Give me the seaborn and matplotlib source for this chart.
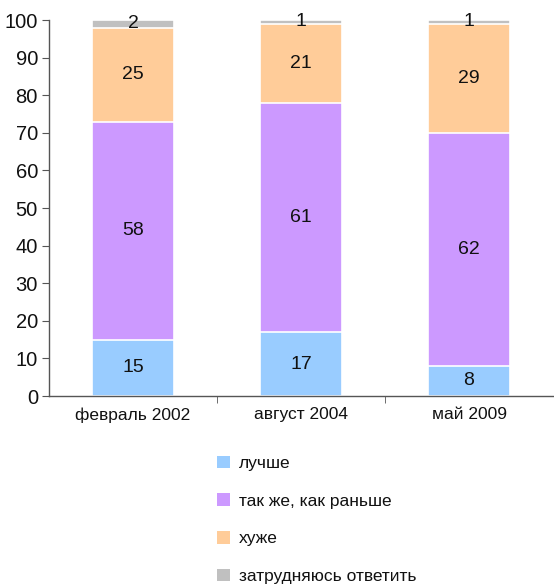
import numpy as np
import pandas as pd
import seaborn as sns
import matplotlib.pyplot as plt
from matplotlib.patches import Patch

periods = ['февраль 2002', 'август 2004', 'май 2009']
series = ['лучше', 'так же, как раньше', 'хуже', 'затрудняюсь ответить']
better = [15, 17, 8]
same = [58, 61, 62]
worse = [25, 21, 29]
no_answer = [2, 1, 1]
colors = ['#99CCFF', '#CC99FF', '#FFCC99', '#C0C0C0']

sns.set_style('white')
plt.rcParams['font.family'] = ['Liberation Sans', 'DejaVu Sans']

df = pd.DataFrame({'period': periods, series[0]: better, series[1]: same,
                   series[2]: worse, series[3]: no_answer})
layers = df[series].cumsum(axis=1)

fig = plt.figure(figsize=(5.54, 5.84), dpi=100)
ax = fig.add_axes([49 / 554, 188 / 584, 504 / 554, 376 / 584])

# draw cumulative totals from the top layer down so each one covers the next
for i in range(len(series) - 1, -1, -1):
    tmp = pd.DataFrame({'period': periods, 'top': layers[series[i]]})
    sns.barplot(data=tmp, x='period', y='top', color=colors[i], saturation=1,
                width=0.49, edgecolor='white', linewidth=1.2, ax=ax)

for j in range(len(periods)):
    base = 0
    for s in series:
        v = df[s][j]
        ax.text(j, base + v / 2, str(v), ha='center', va='center', fontsize=14, color='#111111')
        base += v

ax.set_xlim(-0.5, 2.5)
ax.set_ylim(0, 100)
ax.set_yticks(range(0, 101, 10))
ax.set_xlabel('')
ax.set_ylabel('')
ax.set_xticks([0.5, 1.5], minor=True)
ax.tick_params(axis='x', which='major', length=0, labelsize=12.5, pad=8, labelcolor='#111111')
ax.tick_params(axis='x', which='minor', length=5, color='#555555', direction='out', bottom=True)
ax.tick_params(axis='y', length=5, color='#555555', direction='out', left=True,
               labelsize=14.5, labelcolor='#111111', pad=3)
for side in ['top', 'right']:
    ax.spines[side].set_visible(False)
for side in ['left', 'bottom']:
    ax.spines[side].set_color('#555555')
    ax.spines[side].set_linewidth(1)

handles = [Patch(facecolor=c, edgecolor='none') for c in colors]
leg = fig.legend(handles, series, loc='upper left', bbox_to_anchor=(201 / 554, 1 - 440 / 584),
                 frameon=False, fontsize=12.5, handlelength=0.75, handleheight=0.75,
                 labelspacing=1.28, handletextpad=0.55)
for t in leg.get_texts():
    t.set_color('#111111')

fig.savefig('out.png', dpi=100)
